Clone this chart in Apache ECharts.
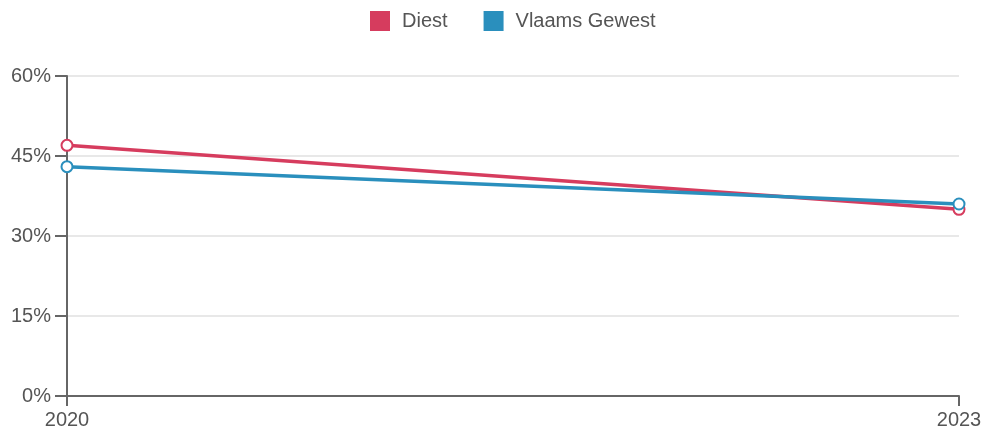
<!DOCTYPE html>
<html><head><meta charset="utf-8">
<script src="https://cdn.jsdelivr.net/npm/echarts@6/dist/echarts.min.js"></script>
<style>html,body{margin:0;padding:0;background:#fff}#c{width:987px;height:433px}</style>
</head><body><div id="c"></div>
<script>
const categories = ['2020', '2023'];
const diest = [47, 35];
const vlaams = [43, 36];
const yTicks = [0, 15, 30, 45, 60];

const chart = echarts.init(document.getElementById('c'));
const font = 'Liberation Sans, Arial, sans-serif';
chart.setOption({
  animation: false,
  textStyle: {fontFamily: font},
  legend: {
    top: 6, left: 365, itemWidth: 20, itemHeight: 20, itemGap: 36,
    icon: 'rect',
    textStyle: {fontSize: 20, color: '#555', fontFamily: font, padding: [0, 0, 0, 7]},
    data: ['Diest', 'Vlaams Gewest']
  },
  grid: {left: 67, right: 28, top: 76, bottom: 37, containLabel: false},
  xAxis: {
    type: 'category', data: categories, boundaryGap: false,
    axisLine: {lineStyle: {color: '#666', width: 2}},
    axisTick: {show: true, length: 10, lineStyle: {color: '#666', width: 2}},
    axisLabel: {fontSize: 20, color: '#555', margin: 14, fontFamily: font}
  },
  yAxis: {
    type: 'value', min: yTicks[0], max: yTicks[yTicks.length-1], interval: 15,
    axisLine: {show: true, lineStyle: {color: '#666', width: 2}},
    axisTick: {show: true, length: 12, lineStyle: {color: '#666', width: 2}},
    axisLabel: {fontSize: 20, color: '#555', margin: 16, formatter: '{value}%', fontFamily: font},
    splitLine: {lineStyle: {color: '#e8e8e8', width: 2}}
  },
  series: [
    {name: 'Diest', type: 'line', data: diest, color: '#d63c5e',
     lineStyle: {width: 3.5}, symbol: 'emptyCircle', symbolSize: 11,
     itemStyle: {borderWidth: 2}},
    {name: 'Vlaams Gewest', type: 'line', data: vlaams, color: '#2a8fbd',
     lineStyle: {width: 3.5}, symbol: 'emptyCircle', symbolSize: 11,
     itemStyle: {borderWidth: 2}}
  ]
});
</script></body></html>
